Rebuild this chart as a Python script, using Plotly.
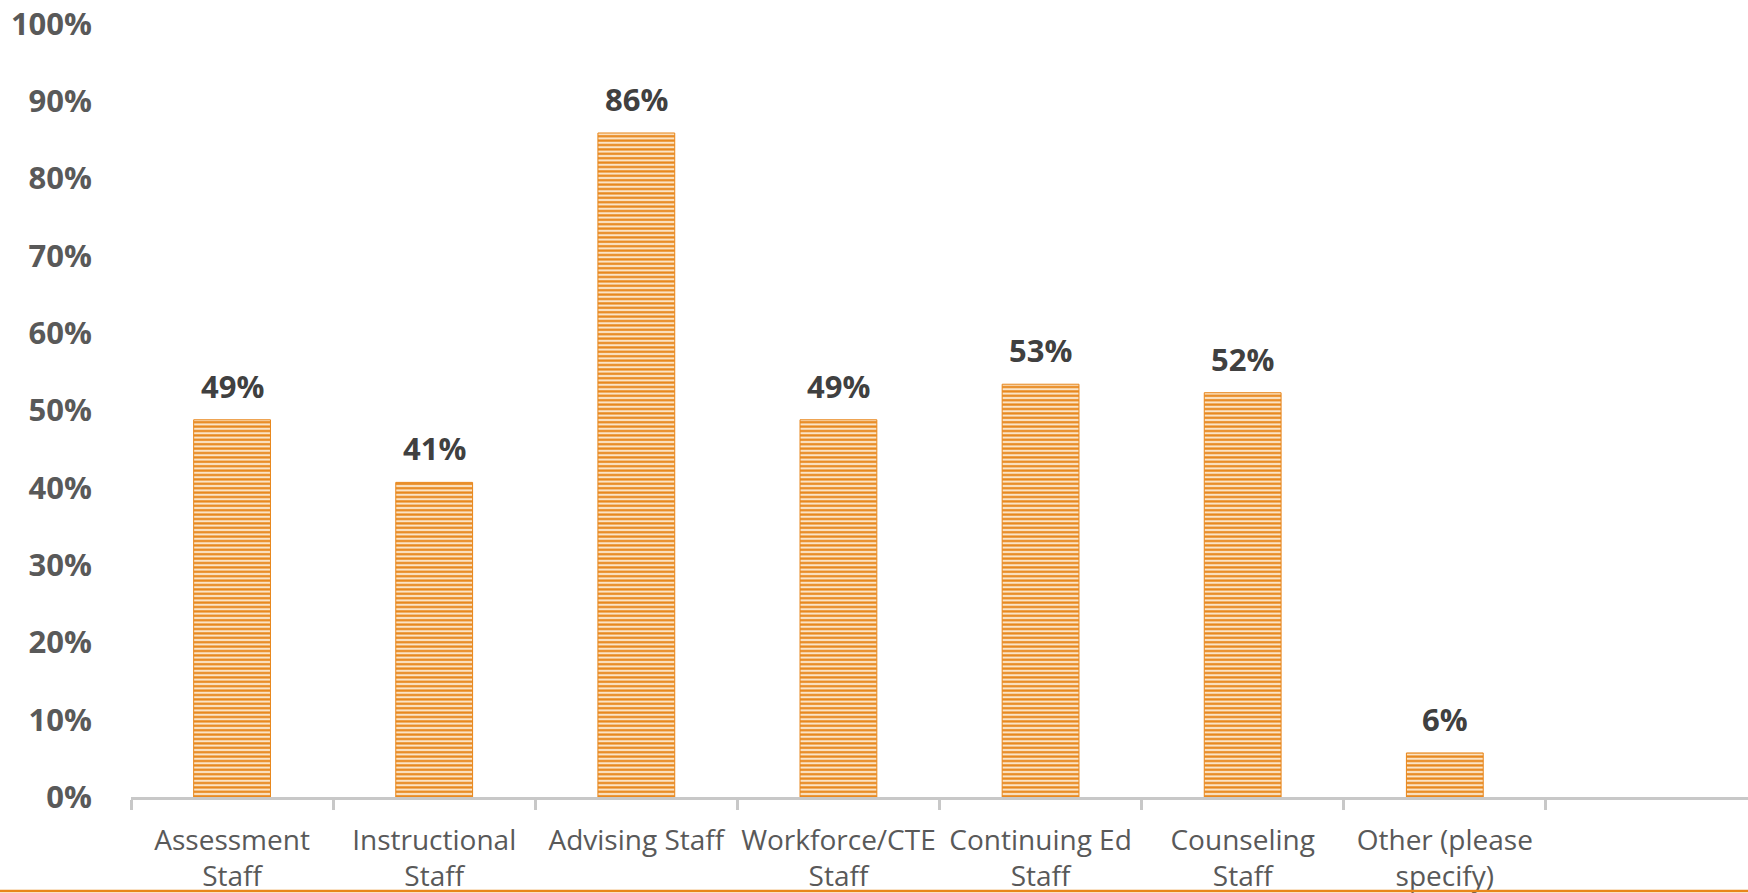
import plotly.graph_objects as go

categories = ["Assessment<br>Staff", "Instructional<br>Staff", "Advising Staff",
              "Workforce/CTE<br>Staff", "Continuing Ed<br>Staff", "Counseling<br>Staff",
              "Other (please<br>specify)"]
values = [0.488, 0.407, 0.859, 0.488, 0.534, 0.523, 0.057]
labels = ["49%", "41%", "86%", "49%", "53%", "52%", "6%"]

W, H = 1748, 893
ml, mr, mt, mb = 131, 0, 24, 96
plot_h = H - mt - mb

ORANGE = "#E8861A"
LIGHT = "#FBE4C6"
GRAY = "#595959"

fig = go.Figure()
fig.add_trace(go.Bar(
    x=categories, y=values, width=0.38,
    marker=dict(color=ORANGE, line=dict(color=ORANGE, width=1),
                pattern=dict(shape="-", fillmode="replace", fgcolor=ORANGE,
                             bgcolor=LIGHT, size=4.4, solidity=0.5)),
    hoverinfo="skip", cliponaxis=False,
))

for c, v, t in zip(categories, values, labels):
    fig.add_annotation(x=c, y=v, text=t, showarrow=False, yanchor="bottom",
                       yshift=11, font=dict(family="Open Sans", size=31, color="#404040", weight="bold"))

# bottom orange rule
y_line = -(mb - 2) / plot_h
fig.add_shape(type="line", xref="paper", yref="paper", x0=-0.2, x1=1.1,
              y0=y_line, y1=y_line, line=dict(color=ORANGE, width=2.5))

fig.update_layout(
    width=W, height=H,
    margin=dict(l=ml, r=mr, t=mt, b=mb, autoexpand=False),
    paper_bgcolor="white", plot_bgcolor="white",
    showlegend=False,
    font=dict(family="Open Sans", color=GRAY),
)
fig.update_xaxes(
    type="category", categoryorder="array", categoryarray=categories,
    range=[-0.5, 7.5], tickangle=0, automargin=False,
    showline=True, linecolor="#C8C8C8", linewidth=3,
    ticks="outside", tickson="boundaries", ticklen=10, tickwidth=3, tickcolor="#C8C8C8",
    tickfont=dict(family="Open Sans", size=28, color=GRAY),
    ticklabelstandoff=16,
    showgrid=False, zeroline=False, fixedrange=True,
)
fig.update_yaxes(
    range=[0, 1], dtick=0.1, tickformat=".0%", automargin=False,
    showgrid=False, zeroline=False, showline=False, ticks="",
    tickfont=dict(family="Open Sans", size=31, color=GRAY, weight="bold"),
    ticklabelstandoff=38, fixedrange=True,
)

fig.write_html("out.html", config={"displayModeBar": False},
               post_script="document.body.style.margin='0';document.body.style.overflow='hidden';")
